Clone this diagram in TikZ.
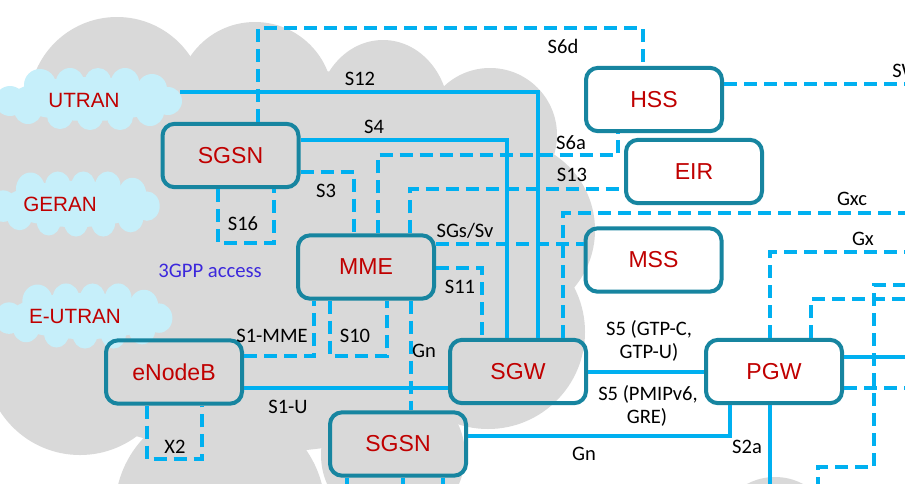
\documentclass[tikz,border=0pt]{standalone}
\usepackage{fontspec}
\setmainfont{Liberation Sans}
\newfontfamily\calfont{Carlito}
\definecolor{cloudgray}{RGB}{217,217,217}
\definecolor{lcyan}{RGB}{198,239,250}
\definecolor{lineblue}{RGB}{0,176,240}
\definecolor{boxteal}{RGB}{23,133,160}
\definecolor{txtred}{RGB}{192,0,0}
\definecolor{accblue}{RGB}{60,40,220}
\newcommand\accesscloud{%
  \fill[lcyan] (0,0) ellipse[x radius=80, y radius=22];
  \fill[lcyan] (-50,-14) circle[radius=16];
  \fill[lcyan] (-20,-17) circle[radius=14];
  \fill[lcyan] (8,-18) circle[radius=13];
  \fill[lcyan] (35,-17) circle[radius=14];
  \fill[lcyan] (62,-10) circle[radius=15];
  \fill[lcyan] (78,2) circle[radius=14];
  \fill[lcyan] (60,13) circle[radius=14];
  \fill[lcyan] (30,18) circle[radius=13];
  \fill[lcyan] (0,18) circle[radius=13];
  \fill[lcyan] (-30,17) circle[radius=13];
  \fill[lcyan] (-62,11) circle[radius=14];
  \fill[lcyan] (-80,2) circle[radius=15];
}
\begin{document}
\begin{tikzpicture}[x=0.75pt,y=-0.75pt,
 box/.style={draw=boxteal, line width=3pt, rounded corners=9pt, minimum width=102pt, minimum height=47.5pt, text=txtred, font=\fontsize{17.3}{20}\selectfont, inner sep=0pt},
 ctext/.style={text=txtred, font=\fontsize{15.5}{18}\selectfont, anchor=base, inner sep=0pt},
 lab/.style={font=\calfont\fontsize{15.4}{18}\selectfont, anchor=base, inner sep=0pt},
 link/.style={line width=3pt, draw=lineblue},
 dlink/.style={link, dash pattern=on 9.75pt off 5.25pt},
]
\useasboundingbox (0,0) rectangle (905,483);
\fill[white] (0,0) rectangle (905,483);
\clip (0,0) rectangle (905,483);

% gray cloud (3GPP access)
\fill[cloudgray] (0,150) -- (60,100) -- (117,60) -- (255,60) -- (383,80) -- (490,110) -- (560,200) -- (575,300) -- (490,400) -- (393,440) -- (220,460) -- (80,420) -- (0,380) -- cycle;
\fill[cloudgray] (117,105) circle[radius=88];
\fill[cloudgray] (255,100) circle[radius=78];
\fill[cloudgray] (383,115) ellipse[x radius=66, y radius=75];
\fill[cloudgray] (490,135) circle[radius=67];
\fill[cloudgray] (505,230) circle[radius=90];
\fill[cloudgray] (488,332) circle[radius=97];
\fill[cloudgray] (393,455) circle[radius=72];
\fill[cloudgray] (220,510) circle[radius=105];
\fill[cloudgray] (80,360) circle[radius=95];
\fill[cloudgray] (60,230) circle[radius=140];
\fill[cloudgray] (775,537) circle[radius=60];

% light access clouds
\begin{scope}[shift={(90,99)}]\accesscloud\end{scope}
\begin{scope}[shift={(76,204)}, xscale=0.91, yscale=1.05]\accesscloud\end{scope}
\begin{scope}[shift={(85,316)}, xscale=0.95, yscale=1.05]\accesscloud\end{scope}
\node[minimum width=135pt, minimum height=46pt, inner sep=0pt] (utran) at (90,99) {};
\node[ctext] (utrant) at (84,107) {UTRAN};
\node[ctext] (gerant) at (60,211) {GERAN};
\node[ctext] (eutrant) at (75,323) {E-UTRAN};
\node[font=\calfont\fontsize{15.5}{18}\selectfont, text=accblue, anchor=base, inner sep=0pt] (acc) at (210,277) {3GPP access};

% boxes
\node[box] (sgsn) at (230.5,155.5) {SGSN};
\node[box] (hss) at (654,99.5) {HSS};
\node[box] (eir) at (694,171.5) {EIR};
\node[box] (mss) at (653.5,260) {MSS};
\node[box] (mme) at (366,267) {MME};
\node[box] (enb) at (174,372) {eNodeB};
\node[box] (sgw) at (518,371.5) {SGW};
\node[box] (pgw) at (774,371.5) {PGW};
\node[box] (sgsnb) at (398,444) {SGSN};

% free ends
\coordinate (e1) at (906,213);
\coordinate (e2) at (906,252);
\coordinate (e3) at (906,299);
\coordinate (e4) at (906,285);
\coordinate (e5) at (818,485);
\coordinate (e6) at (906,357);
\coordinate (e7) at (906,388);
\coordinate (e8) at (770,485);
\coordinate (e9) at (906,84);
\coordinate (e10) at (347,485);
\coordinate (e11) at (403,485);
\coordinate (e12) at (443,485);

% connectors
\draw[link] (utran.east |- 0,92) -| (sgw.north -| 538,0);
\draw[link] (sgsn.east |- 0,140) -| (sgw.north -| 507,0);
\draw[dlink] (sgsn.north -| 258,0) -- (258,28) -| (hss.north -| 643,0);
\draw[dlink] (sgsn.east |- 0,172) -| (mme.north -| 354,0);
\draw[dlink] (sgsn.south -| 218,0) |- (274,243) -- (sgsn.south -| 274,0);
\draw[dlink] (mme.north -| 378,0) |- (618,155) -- (hss.south -| 618,0);
\draw[dlink] (mme.north -| 410,0) |- (eir.west |- 0,189);
\draw[dlink] (mme.east |- 0,244) -- (mss.west |- 0,244);
\draw[dlink] (mme.east |- 0,268) -| (sgw.north -| 482,0);
\draw[dlink] (sgw.north -| 563,0) |- (e1);
\draw[dlink] (pgw.north -| 770,0) |- (e2);
\draw[dlink] (pgw.north -| 811,0) |- (e3);
\draw[dlink] (e4) -| (874,467) -| (e5);
\draw[link] (pgw.east |- 0,357) -- (e6);
\draw[dlink] (pgw.east |- 0,388) -- (e7);
\draw[link] (pgw.south -| 770,0) -- (e8);
\draw[link] (sgsnb.east |- 0,436) -| (pgw.south -| 730,0);
\draw[link] (sgw.east |- 0,372) -- (pgw.west |- 0,372);
\draw[link] (enb.east |- 0,388) -- (sgw.west |- 0,388);
\draw[dlink] (enb.east |- 0,356) -| (mme.south -| 314,0);
\draw[dlink] (mme.south -| 330,0) |- (387,356) -- (mme.south -| 387,0);
\draw[dlink] (mme.south -| 411,0) -- (sgsnb.north -| 411,0);
\draw[dlink] (enb.south -| 147,0) |- (202,459) -- (enb.south -| 202,0);
\draw[dlink] (hss.east |- 0,84) -- (e9);
\draw[link] (sgsnb.south -| 347,0) -- (e10);
\draw[link] (sgsnb.south -| 403,0) -- (e11);
\draw[link] (sgsnb.south -| 443,0) -- (e12);

% labels
\node[lab] at (360,85) {S12};
\node[lab] at (374,133) {S4};
\node[lab] at (563,53) {S6d};
\node[lab] at (326,197) {S3};
\node[lab] at (243,230) {S16};
\node[lab] at (571,149) {S6a};
\node[lab] at (572,181) {S13};
\node[lab] at (465,237) {SGs/Sv};
\node[lab] at (460,293) {S11};
\node[lab] at (852,205) {Gxc};
\node[lab] at (863,245) {Gx};
\node[lab, anchor=base west] at (892,77) {SWx};
\node[lab] at (649,335) {S5 (GTP-C,};
\node[lab] at (649,358) {GTP-U)};
\node[lab] at (648,400) {S5 (PMIPv6,};
\node[lab] at (647,423) {GRE)};
\node[lab] at (747,453) {S2a};
\node[lab] at (584,460) {Gn};
\node[lab] at (288,413) {S1-U};
\node[lab] at (272,342) {S1-MME};
\node[lab] at (355,342) {S10};
\node[lab] at (424,357) {Gn};
\node[lab] at (175,453) {X2};
\end{tikzpicture}
\end{document}
